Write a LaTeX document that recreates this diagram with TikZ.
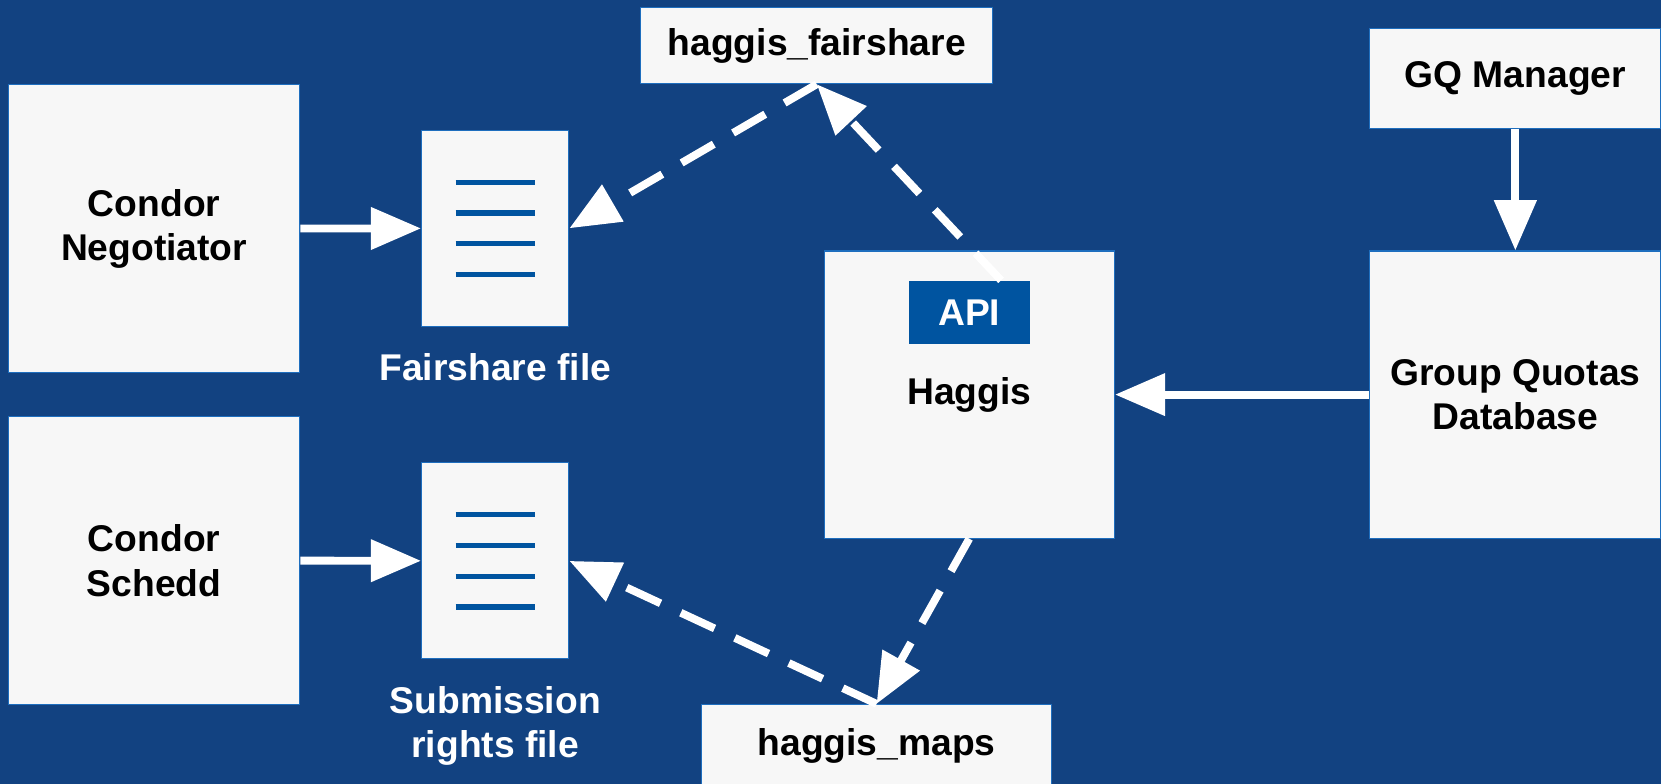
\documentclass[tikz,border=0pt]{standalone}
\usepackage{fontspec}
\setmainfont{Liberation Sans}
\usetikzlibrary{positioning,arrows.meta}
\definecolor{bgblue}{RGB}{18,66,129}
\definecolor{apiblue}{RGB}{0,84,160}
\definecolor{boxfill}{RGB}{247,247,247}
\definecolor{boxline}{RGB}{30,110,190}
\begin{document}
\begin{tikzpicture}[font=\fontsize{20}{24}\selectfont\bfseries]
        \tikzstyle{block}=[rectangle,draw=boxline,line width=0.6pt,fill=boxfill,text=black,align=center,inner sep=0pt]
        \tikzstyle{docfile}=[rectangle,draw=boxline,line width=0.6pt,fill=boxfill,minimum width=2.78cm,minimum height=3.7cm,inner sep=0pt]
        \tikzstyle{doclabel}=[text=white,align=center,inner sep=0pt]
        \tikzstyle{flow}=[draw,white,line width=4.2pt,-{Triangle[length=27pt,width=22pt,fill=white]}]
        \tikzstyle{dataflow}=[flow,dash pattern=on 20pt off 12pt]
       \useasboundingbox (0,0) rectangle (31.36,14.8);
       \fill[bgblue] (0,0) rectangle (31.36,14.8);
       \begin{scope}
         \node [block,minimum width=5.5cm,minimum height=5.44cm] (neg) at (2.91,10.48) {Condor\\Negotiator};
         \node [block,minimum width=5.5cm,minimum height=5.44cm] (schedd) at (2.91,4.22) {Condor\\Schedd};
         \node [docfile] (fsdoc) at (9.35,10.49) {};
         \node [docfile] (subdoc) at (9.35,4.21) {};
         \foreach \d in {fsdoc,subdoc}
           \foreach \y in {0.87,0.29,-0.29,-0.87}
             \draw [apiblue,line width=0.1cm] ([xshift=-0.75cm,yshift=\y cm]\d.center) -- ++(1.5,0);
         \node [doclabel,below=0.5cm of fsdoc] (fslabel) {Fairshare file};
         \node [doclabel,below=0.5cm of subdoc] (sublabel) {Submission\\rights file};
         \node [block,minimum width=6.64cm,minimum height=1.44cm] (hfair) at (15.42,13.94) {haggis\_fairshare};
         \node [block,minimum width=5.48cm,minimum height=5.42cm] (haggis) at (18.3,7.35) {Haggis};
         \node [rectangle,fill=apiblue,text=white,minimum width=2.28cm,minimum height=1.2cm,inner sep=0pt] (api) at (18.3,8.9) {API};
         \node [block,minimum width=5.5cm,minimum height=1.88cm] (gqm) at (28.61,13.32) {GQ Manager};
         \node [block,minimum width=5.5cm,minimum height=5.42cm] (gqdb) at (28.61,7.35) {Group Quotas\\Database};
         \node [block,minimum width=6.62cm,minimum height=1.56cm] (hmaps) at (16.55,0.72) {haggis\_maps};
         \path (neg) edge[flow] (fsdoc);
         \path (schedd) edge[flow] (subdoc);
         \path (gqm) edge[flow] (gqdb);
         \path (gqdb) edge[flow] (haggis);
         \path (hfair.south) edge[dataflow] (fsdoc.east);
         \path ([xshift=0.6cm]api.north) edge[dataflow] (hfair.south);
         \path (haggis.south) edge[dataflow] (hmaps.north);
         \path (hmaps.north) edge[dataflow] (subdoc.east);
        \end{scope}
      \end{tikzpicture}
\end{document}
